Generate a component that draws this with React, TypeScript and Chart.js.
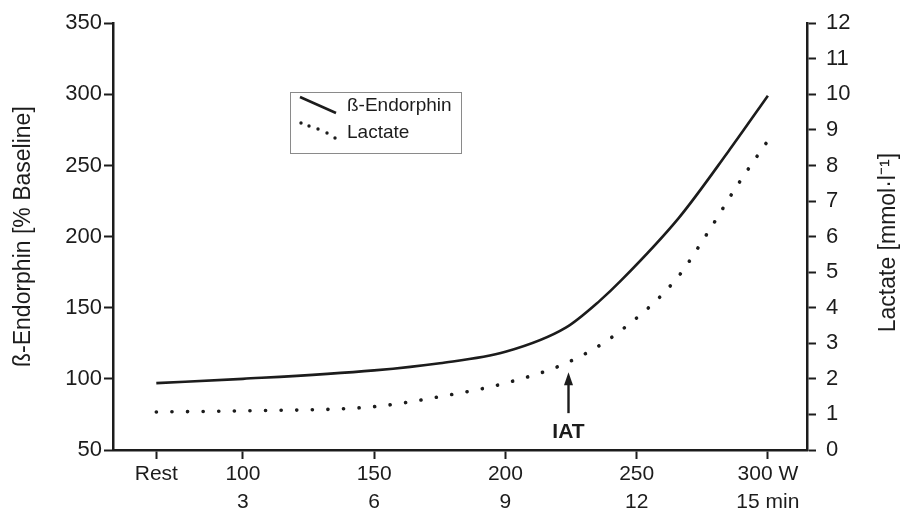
import React, { useEffect, useRef } from "react";
import { Chart, registerables } from "chart.js";

Chart.register(...registerables);

// Workload positions (W); "Rest" sits left of 100 W
const xTickValues = [67, 100, 150, 200, 250, 300];
const xTickLabelsW = ["Rest", "100", "150", "200", "250", "300 W"];
const xTickLabelsMin = ["", "3", "6", "9", "12", "15 min"];

const endorphinX = [67, 100, 150, 175, 200, 223, 236, 244, 266, 285, 300];
const endorphinY = [97, 100, 106, 111, 119, 136, 155, 169, 213, 260, 299];

const lactateX = [67, 100, 150, 175, 200, 224, 242, 265, 277, 288, 300];
const lactateY = [1.07, 1.1, 1.22, 1.5, 1.88, 2.47, 3.25, 4.8, 6.1, 7.4, 8.7];

const iatX = 224;
const iatLactate = 2.47;

const leftTitle = "ß-Endorphin [% Baseline]";
const rightTitle = "Lactate [mmol·l⁻¹]";
const legendLabels = ["ß-Endorphin", "Lactate"];

const FONT = "'Liberation Sans', Arial, Helvetica, sans-serif";
const INK = "#1c1c1c";

const overlayPlugin = {
  id: "overlay",
  afterDraw(chart: any) {
    const ctx = chart.ctx as CanvasRenderingContext2D;
    const xs = chart.scales.x;
    const yr = chart.scales.y1;
    const area = chart.chartArea;
    ctx.save();
    // Legend box
    ctx.strokeStyle = "#8a8a8a";
    ctx.lineWidth = 1;
    ctx.strokeRect(290.5, 92.5, 171, 61);
    // Solid sample
    ctx.strokeStyle = INK;
    ctx.lineWidth = 2.6;
    ctx.beginPath();
    ctx.moveTo(300, 97);
    ctx.lineTo(336, 113);
    ctx.stroke();
    // Dotted sample
    ctx.fillStyle = INK;
    const dots = [
      [301, 123],
      [309, 126],
      [318, 129],
      [327, 133],
      [335, 138],
    ];
    for (const [dx, dy] of dots) {
      ctx.beginPath();
      ctx.arc(dx, dy, 1.7, 0, Math.PI * 2);
      ctx.fill();
    }
    ctx.font = `19px ${FONT}`;
    ctx.textBaseline = "middle";
    ctx.textAlign = "left";
    ctx.fillText(legendLabels[0], 347, 106);
    ctx.fillText(legendLabels[1], 347, 133);

    // IAT arrow
    const ax = Math.round(xs.getPixelForValue(iatX)) + 0.5;
    const tipY = yr.getPixelForValue(iatLactate) + 10;
    ctx.strokeStyle = INK;
    ctx.lineWidth = 2.4;
    ctx.beginPath();
    ctx.moveTo(ax, tipY + 8);
    ctx.lineTo(ax, tipY + 41);
    ctx.stroke();
    ctx.beginPath();
    ctx.moveTo(ax, tipY);
    ctx.lineTo(ax - 4.5, tipY + 13);
    ctx.lineTo(ax + 4.5, tipY + 13);
    ctx.closePath();
    ctx.fill();
    ctx.font = `bold 21px ${FONT}`;
    ctx.textAlign = "center";
    ctx.fillText("IAT", ax, tipY + 60);

    // Right axis title (reads bottom to top)
    ctx.translate(889, (area.top + area.bottom) / 2 + 6);
    ctx.rotate(-Math.PI / 2);
    ctx.font = `23px ${FONT}`;
    ctx.textAlign = "center";
    ctx.textBaseline = "middle";
    ctx.fillText(rightTitle, 0, 0);
    ctx.restore();
  },
};

export default function App() {
  const canvasRef = useRef<HTMLCanvasElement | null>(null);

  useEffect(() => {
    if (!canvasRef.current) return;
    const chart = new Chart(canvasRef.current, {
      type: "line",
      data: {
        datasets: [
          {
            label: legendLabels[0],
            data: endorphinX.map((x, i) => ({ x, y: endorphinY[i] })),
            yAxisID: "y",
            borderColor: INK,
            borderWidth: 2.6,
            pointRadius: 0,
            cubicInterpolationMode: "monotone",
            fill: false,
          },
          {
            label: legendLabels[1],
            data: lactateX.map((x, i) => ({ x, y: lactateY[i] })),
            yAxisID: "y1",
            borderColor: INK,
            borderWidth: 3.6,
            borderDash: [0.1, 15.5],
            borderCapStyle: "round",
            pointRadius: 0,
            cubicInterpolationMode: "monotone",
            fill: false,
          },
        ],
      },
      options: {
        animation: false,
        responsive: false,
        maintainAspectRatio: false,
        layout: { padding: { top: 22, left: 0, right: 0, bottom: 0 } },
        plugins: {
          legend: { display: false },
          tooltip: { enabled: false },
        },
        scales: {
          x: {
            type: "linear",
            min: 50.5,
            max: 314.9,
            afterBuildTicks: (scale: any) => {
              scale.ticks = xTickValues.map((v) => ({ value: v }));
            },
            afterFit: (scale: any) => {
              scale.height = 64;
            },
            ticks: {
              autoSkip: false,
              maxRotation: 0,
              color: INK,
              font: { family: FONT, size: 21, lineHeight: 1.3 },
              padding: 2,
              callback: (value: any) => {
                const i = xTickValues.indexOf(Number(value));
                if (i < 0) return "";
                return [xTickLabelsW[i], xTickLabelsMin[i]];
              },
            },
            grid: {
              drawOnChartArea: false,
              drawTicks: true,
              tickLength: 9,
              tickColor: INK,
              tickWidth: 2,
            },
            border: { color: INK, width: 2.5 },
          },
          y: {
            type: "linear",
            position: "left",
            min: 50,
            max: 350,
            afterFit: (scale: any) => {
              scale.width = 113;
            },
            ticks: {
              stepSize: 50,
              color: INK,
              font: { family: FONT, size: 22 },
              padding: 2,
            },
            grid: {
              drawOnChartArea: false,
              tickLength: 9,
              tickColor: INK,
              tickWidth: 2,
            },
            border: { color: INK, width: 2.5 },
            title: {
              display: true,
              text: leftTitle,
              color: INK,
              font: { family: FONT, size: 23 },
              padding: { top: 10, bottom: 0 },
            },
          },
          y1: {
            type: "linear",
            position: "right",
            min: 0,
            max: 12,
            afterFit: (scale: any) => {
              scale.width = 100;
            },
            ticks: {
              stepSize: 1,
              color: INK,
              font: { family: FONT, size: 22 },
              padding: 10,
            },
            grid: {
              drawOnChartArea: false,
              tickLength: 9,
              tickColor: INK,
              tickWidth: 2,
            },
            border: { color: INK, width: 2.5 },
          },
        },
      },
      plugins: [overlayPlugin],
    } as any);
    return () => chart.destroy();
  }, []);

  return (
    <div style={{ position: "fixed", left: 0, top: 0, width: 907, height: 514, background: "#fff" }}>
      <canvas ref={canvasRef} width={907} height={514} style={{ display: "block" }} />
    </div>
  );
}
